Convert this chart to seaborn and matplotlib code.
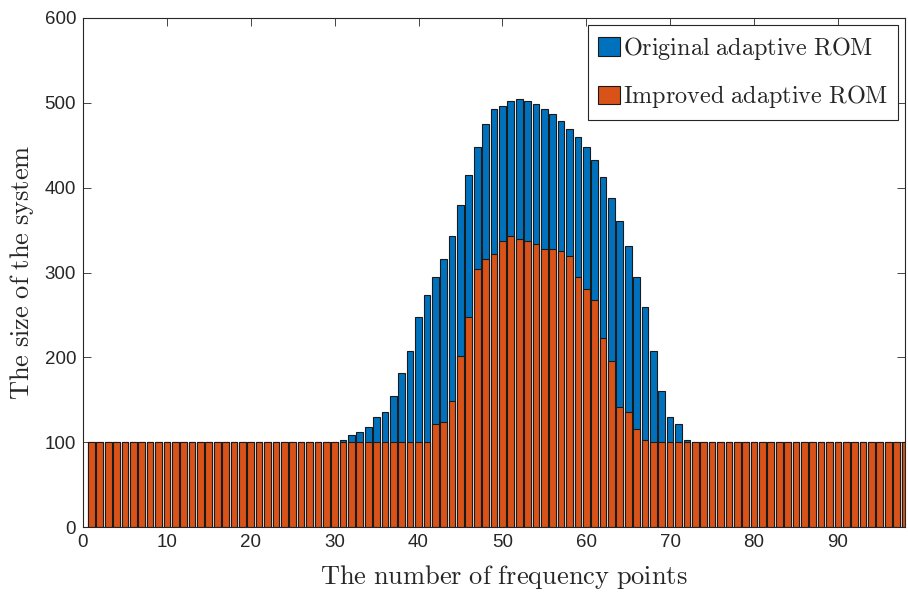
import numpy as np
import pandas as pd
import matplotlib
matplotlib.use("Agg")
import matplotlib.pyplot as plt
import seaborn as sns

# ---- data ----
freq_points = list(range(1, 99))
original_rom = ([100] * 30 +
                [103, 109, 112, 118, 130, 136, 154, 181, 208, 247,
                 274, 295, 316, 343, 379, 415, 448, 475, 493, 496,
                 502, 505, 502, 499, 493, 487, 478, 469, 460, 448,
                 433, 412, 388, 361, 331, 295, 259, 208, 160, 130,
                 121, 103] +
                [100] * 26)
improved_rom = ([100] * 41 +
                [121, 124, 149, 202, 247, 304, 316, 322, 337, 343,
                 340, 337, 334, 328, 328, 325, 319, 295, 280, 268,
                 223, 196, 142, 136, 115, 103] +
                [100] * 31)
x_ticks = [0, 10, 20, 30, 40, 50, 60, 70, 80, 90]
y_ticks = [0, 100, 200, 300, 400, 500, 600]

sns.set_theme(style="white")
plt.rcParams["mathtext.fontset"] = "cm"
plt.rcParams["font.family"] = ["Liberation Sans", "DejaVu Sans"]

df = pd.DataFrame({"x": freq_points, "orig": original_rom, "impr": improved_rom})

fig = plt.figure(figsize=(9.08, 5.92), dpi=100)
ax = fig.add_axes([83 / 908, 1 - 527 / 592, (905 - 83) / 908, (527 - 18) / 592])

sns.barplot(data=df, x="x", y="orig", native_scale=True, width=0.8, errorbar=None,
            color="#0072BD", saturation=1, edgecolor="#1a1a1a", linewidth=0.8,
            label="Original adaptive ROM", ax=ax)
sns.barplot(data=df, x="x", y="impr", native_scale=True, width=0.8, errorbar=None,
            color="#D95319", saturation=1, edgecolor="#1a1a1a", linewidth=0.8,
            label="Improved adaptive ROM", ax=ax)

ax.set_xlim(0, 98)
ax.set_ylim(0, 600)
ax.set_xticks(x_ticks)
ax.set_yticks(y_ticks)
ax.set_xticklabels([str(t) for t in x_ticks], fontsize=13.5)
ax.set_yticklabels([str(t) for t in y_ticks], fontsize=13.5)
ax.tick_params(direction="in", length=6, width=0.6, color="#262626",
               top=True, right=True, bottom=True, left=True, pad=5)
for s in ax.spines.values():
    s.set_visible(True)
    s.set_color("#262626")
    s.set_linewidth(0.8)

ax.set_xlabel(r"$\mathrm{The\ number\ of\ frequency\ points}$", fontsize=19)
ax.xaxis.set_label_coords(0.512, -0.0700)
ax.set_ylabel(r"$\mathrm{The\ size\ of\ the\ system}$", fontsize=19, labelpad=6)

leg = ax.legend(loc="upper right", frameon=True, fancybox=False,
                edgecolor="#262626", framealpha=1, handlelength=0.92, handleheight=0.8,
                handletextpad=0.14, borderaxespad=0.29, borderpad=0.4, labelspacing=0.9,
                prop={"family": "serif", "size": 17.4})
leg.get_frame().set_linewidth(0.8)
for t in leg.get_texts():
    t.set_text(r"$\mathrm{" + t.get_text().replace(" ", r"\ ") + "}$")

fig.savefig("out.png", dpi=100)
